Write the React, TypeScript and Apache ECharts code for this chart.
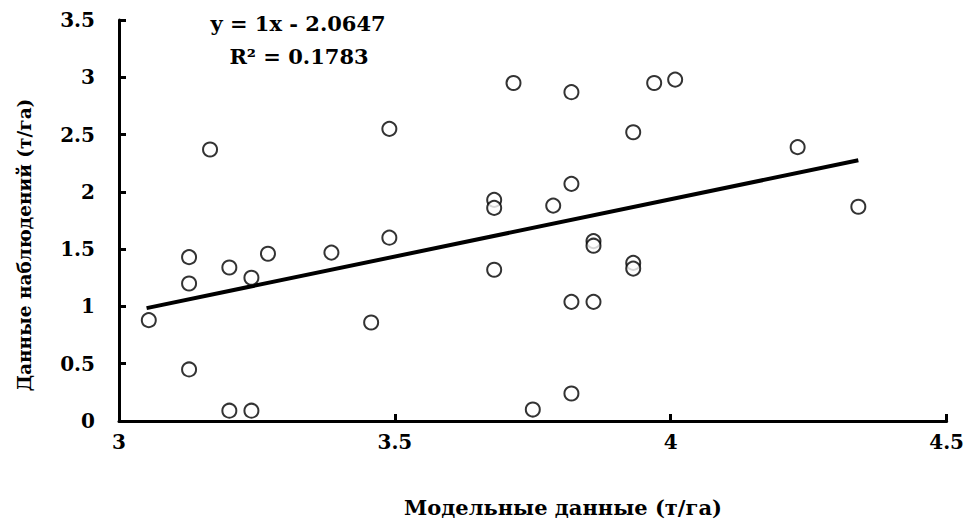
import React, { useEffect, useRef } from "react";
import * as echarts from "echarts";

const modelX = [
  3.054, 3.127, 3.127, 3.127, 3.165, 3.2, 3.2, 3.24, 3.24, 3.27, 3.385, 3.49, 3.49, 3.457,
  3.715, 3.68, 3.68, 3.68, 3.75, 3.787, 3.82, 3.82, 3.82, 3.82, 3.86, 3.86, 3.86, 3.932,
  3.932, 3.932, 3.97, 4.008, 4.23, 4.34,
];
const observedY = [
  0.88, 0.45, 1.2, 1.43, 2.37, 0.09, 1.34, 0.09, 1.25, 1.46, 1.47, 2.55, 1.6, 0.86,
  2.95, 1.93, 1.86, 1.32, 0.1, 1.88, 2.87, 2.07, 1.04, 0.24, 1.57, 1.53, 1.04, 2.52,
  1.38, 1.33, 2.95, 2.98, 2.39, 1.87,
];
const trendSlope = 1;
const trendIntercept = -2.0647;
const trendXRange = [3.05, 4.34];
const equationText = "y = 1x - 2.0647";
const r2Text = "R² = 0.1783";
const xTitle = "Модельные данные (т/га)";
const yTitle = "Данные наблюдений (т/га)";

const FONT = "'DejaVu Serif', 'Liberation Serif', serif";

export default function App() {
  const ref = useRef<HTMLDivElement>(null);
  useEffect(() => {
    document.body.style.margin = "0";
    if (!ref.current) return;
    const chart = echarts.init(ref.current, null, { renderer: "svg" });
    const points = modelX.map((x, i) => [x, observedY[i]]);
    const trend = trendXRange.map((x) => [x, trendSlope * x + trendIntercept]);
    chart.setOption({
      animation: false,
      backgroundColor: "#fff",
      grid: { left: 119, right: 19, top: 20, bottom: 105 },
      xAxis: {
        type: "value",
        min: 3,
        max: 4.5,
        interval: 0.5,
        splitLine: { show: false },
        axisLine: { lineStyle: { color: "#000", width: 3 } },
        axisTick: { inside: true, length: 7, lineStyle: { color: "#000", width: 3 } },
        axisLabel: {
          color: "#000",
          fontFamily: FONT,
          fontWeight: "bold",
          fontSize: 20,
          margin: 11,
          formatter: (v: number) => String(v),
        },
      },
      yAxis: {
        type: "value",
        min: 0,
        max: 3.5,
        interval: 0.5,
        splitLine: { show: false },
        axisLine: { lineStyle: { color: "#000", width: 3 } },
        axisTick: { inside: true, length: 7, lineStyle: { color: "#000", width: 3 } },
        axisLabel: {
          color: "#000",
          fontFamily: FONT,
          fontWeight: "bold",
          fontSize: 20,
          margin: 24,
          formatter: (v: number) => String(v),
        },
      },
      series: [
        {
          type: "line",
          data: trend,
          symbol: "none",
          lineStyle: { color: "#000", width: 4 },
          z: 2,
        },
        {
          type: "scatter",
          data: points,
          symbol: "circle",
          symbolSize: 14,
          itemStyle: { color: "#fff", borderColor: "#000", borderWidth: 2 },
          z: 3,
        },
      ],
      graphic: [
        {
          type: "text",
          x: 298,
          y: 13,
          style: {
            text: equationText,
            fill: "#000",
            font: `bold 21px ${FONT}`,
            align: "center",
            verticalAlign: "top",
          },
        },
        {
          type: "text",
          x: 299,
          y: 46,
          style: {
            text: r2Text,
            fill: "#000",
            font: `bold 21px ${FONT}`,
            align: "center",
            verticalAlign: "top",
          },
        },
        {
          type: "text",
          x: 563,
          y: 507,
          style: {
            text: xTitle,
            fill: "#000",
            font: `bold 21px ${FONT}`,
            align: "center",
            verticalAlign: "middle",
          },
        },
        {
          type: "text",
          x: 24,
          y: 245,
          rotation: Math.PI / 2,
          style: {
            text: yTitle,
            fill: "#000",
            font: `bold 18.5px ${FONT}`,
            align: "center",
            verticalAlign: "middle",
          },
        },
      ],
    });
    return () => chart.dispose();
  }, []);
  return <div ref={ref} style={{ width: 967, height: 526 }} />;
}
